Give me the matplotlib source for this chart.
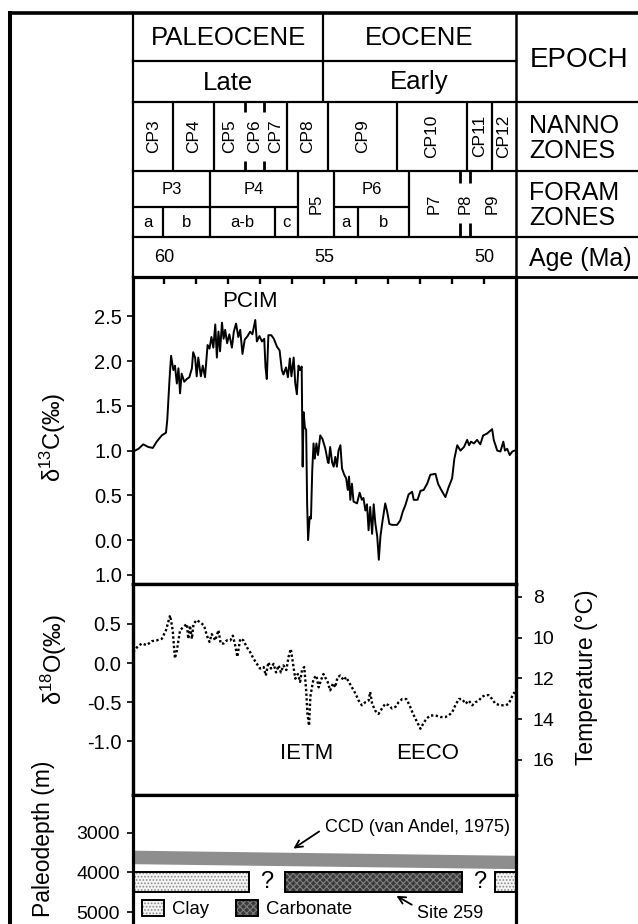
import matplotlib
matplotlib.use('Agg')
import matplotlib.pyplot as plt
from matplotlib.patches import Patch

plt.rcParams['font.family'] = ['Liberation Sans', 'DejaVu Sans']
plt.rcParams['mathtext.default'] = 'regular'
plt.rcParams['hatch.linewidth'] = 0.8

# ---------------- data ----------------
d13c_age = [60.97, 60.81, 60.66, 60.50, 60.36, 60.24, 60.08, 59.95, 59.91, 59.84, 59.79,
            59.72, 59.67, 59.61, 59.56, 59.51, 59.46, 59.38, 59.30, 59.22, 59.14, 59.10,
            59.04, 58.99, 58.94, 58.86, 58.80, 58.73, 58.65, 58.59, 58.53, 58.47, 58.41,
            58.36, 58.31, 58.26, 58.20, 58.15, 58.10, 58.04, 57.97, 57.89, 57.83, 57.76,
            57.69, 57.63, 57.56, 57.49, 57.40, 57.32, 57.25, 57.16, 57.11, 57.03, 56.95,
            56.88, 56.84, 56.80, 56.75, 56.66, 56.58, 56.48, 56.40, 56.33, 56.28, 56.20,
            56.14, 56.08, 56.03, 55.96, 55.91, 55.86, 55.81, 55.76, 55.71, 55.68, 55.65,
            55.61, 55.57, 55.54, 55.51, 55.46, 55.42, 55.38, 55.34, 55.30, 55.25, 55.20,
            55.13, 55.06, 54.97, 54.89, 54.87, 54.82, 54.76, 54.71, 54.66, 54.61, 54.56,
            54.50, 54.45, 54.38, 54.32, 54.27, 54.23, 54.19, 54.14, 54.09, 53.98, 53.90,
            53.83, 53.78, 53.72, 53.67, 53.62, 53.57, 53.51, 53.46, 53.41, 53.35, 53.30,
            53.25, 53.19, 53.10, 53.04, 52.97, 52.89, 52.73, 52.63, 52.55, 52.47, 52.37,
            52.26, 52.21, 52.09, 52.00, 51.90, 51.79, 51.69, 51.53, 51.45, 51.35, 51.22,
            51.12, 51.01, 50.94, 50.85, 50.75, 50.64, 50.54, 50.48, 50.42, 50.33, 50.23,
            50.13, 50.04, 49.92, 49.76, 49.71, 49.60, 49.50, 49.41, 49.36, 49.29, 49.21,
            49.13, 49.06]
d13c_val = [0.99, 1.02, 1.07, 1.04, 1.03, 1.10, 1.17, 1.20, 1.34, 1.79, 2.06,
            1.90, 1.95, 1.75, 1.92, 1.64, 1.86, 1.77, 1.80, 1.82, 1.92, 2.10,
            2.04, 1.83, 2.04, 1.83, 1.95, 1.82, 2.18, 2.14, 2.27, 2.15, 2.41,
            2.04, 2.33, 2.11, 2.43, 2.25, 2.35, 2.20, 2.30, 2.15, 2.33, 2.42,
            2.27, 2.35, 2.08, 2.24, 2.28, 2.33, 2.30, 2.46, 2.22, 2.28, 2.22,
            2.25, 1.93, 1.80, 2.29, 2.29, 2.25, 2.16, 2.12, 1.90, 1.85, 1.93,
            1.82, 2.03, 1.83, 2.04, 1.75, 1.63, 1.95, 1.90, 1.94, 0.82, 1.43,
            1.26, 1.23, 0.41, 0.00, 0.26, 0.24, 0.78, 1.08, 0.91, 1.08, 0.95,
            1.17, 1.13, 1.02, 0.87, 0.86, 1.04, 0.87, 0.82, 0.93, 0.82, 1.00,
            1.06, 0.80, 0.73, 0.69, 0.56, 0.71, 0.45, 0.63, 0.43, 0.41, 0.53,
            0.45, 0.47, 0.33, 0.40, 0.11, 0.37, 0.07, 0.40, 0.19, 0.04, -0.22,
            0.04, 0.20, 0.41, 0.32, 0.18, 0.17, 0.17, 0.22, 0.32, 0.39, 0.51,
            0.54, 0.45, 0.45, 0.55, 0.56, 0.63, 0.73, 0.74, 0.63, 0.56, 0.48,
            0.59, 0.69, 0.91, 1.06, 1.00, 1.04, 1.12, 1.06, 1.10, 1.08, 1.12,
            1.07, 1.17, 1.19, 1.24, 1.12, 1.00, 0.99, 1.10, 1.00, 1.02, 0.95,
            0.99, 1.00]

d18o_age = [60.97, 60.86, 60.71, 60.55, 60.39, 60.24, 60.08, 59.95, 59.82, 59.74, 59.67,
            59.61, 59.51, 59.41, 59.30, 59.25, 59.20, 59.14, 59.09, 58.99, 58.88, 58.76,
            58.67, 58.59, 58.52, 58.41, 58.31, 58.24, 58.15, 58.05, 57.94, 57.86, 57.79,
            57.72, 57.63, 57.53, 57.42, 57.32, 57.22, 57.11, 57.01, 56.90, 56.83, 56.75,
            56.67, 56.59, 56.51, 56.43, 56.36, 56.28, 56.19, 56.12, 56.05, 55.98, 55.91,
            55.83, 55.76, 55.70, 55.63, 55.57, 55.53, 55.48, 55.44, 55.39, 55.34, 55.25,
            55.18, 55.11, 55.03, 54.90, 54.82, 54.73, 54.66, 54.59, 54.50, 54.40, 54.32,
            54.24, 54.14, 54.03, 53.93, 53.83, 53.72, 53.62, 53.57, 53.51, 53.41, 53.31,
            53.20, 53.10, 52.99, 52.89, 52.78, 52.68, 52.57, 52.44, 52.34, 52.23, 52.11,
            52.00, 51.92, 51.81, 51.69, 51.53, 51.38, 51.22, 51.12, 51.01, 50.91, 50.80,
            50.70, 50.59, 50.49, 50.38, 50.28, 50.18, 50.07, 49.97, 49.87, 49.76, 49.66,
            49.50, 49.34, 49.24, 49.14, 49.06]
d18o_val = [0.14, 0.20, 0.25, 0.23, 0.28, 0.29, 0.31, 0.42, 0.61, 0.42, 0.06,
            0.16, 0.42, 0.46, 0.50, 0.31, 0.48, 0.31, 0.50, 0.55, 0.52, 0.48,
            0.35, 0.27, 0.37, 0.29, 0.42, 0.25, 0.25, 0.29, 0.29, 0.35, 0.23,
            0.08, 0.31, 0.29, 0.20, 0.14, 0.06, -0.01, -0.07, -0.05, -0.16, 0.01,
            -0.07, -0.01, -0.12, -0.03, -0.12, -0.03, -0.09, 0.08, 0.18, -0.01, -0.20,
            -0.14, -0.24, -0.09, -0.05, -0.35, -0.65, -0.80, -0.43, -0.31, -0.20, -0.16,
            -0.31, -0.22, -0.14, -0.24, -0.35, -0.26, -0.31, -0.18, -0.16, -0.22, -0.18,
            -0.24, -0.31, -0.39, -0.48, -0.54, -0.50, -0.48, -0.37, -0.52, -0.61, -0.65,
            -0.58, -0.52, -0.54, -0.58, -0.56, -0.50, -0.46, -0.46, -0.54, -0.65, -0.75,
            -0.84, -0.78, -0.71, -0.67, -0.67, -0.69, -0.69, -0.67, -0.63, -0.54, -0.46,
            -0.46, -0.52, -0.48, -0.54, -0.50, -0.48, -0.43, -0.41, -0.41, -0.46, -0.52,
            -0.54, -0.54, -0.52, -0.43, -0.37]

d13c_ticks = [2.5, 2.0, 1.5, 1.0, 0.5, 0.0, -0.39]
d13c_ticklabels = ['2.5', '2.0', '1.5', '1.0', '0.5', '0.0', '1.0']
d18o_ticks = [0.5, 0.0, -0.5, -1.0]
d18o_ticklabels = ['0.5', '0.0', '-0.5', '-1.0']
temp_ticks = [8, 10, 12, 14, 16]
depth_ticks = [3000, 4000, 5000]
age_ticks = list(range(60, 49, -1))
age_labels = [60, 55, 50]

epoch_names = ['PALEOCENE', 'EOCENE']
subepoch_names = ['Late', 'Early']
epoch_bound = 55.03

nanno_names = ['CP3', 'CP4', 'CP5', 'CP6', 'CP7', 'CP8', 'CP9', 'CP10', 'CP11', 'CP12']
nanno_bounds = [59.72, 58.44, 57.48, 56.90, 56.17, 54.90, 52.73, 50.56, 49.76]
nanno_dashed = [False, False, True, True, False, False, False, False, False]

foram_names = ['P3', 'P4', 'P5', 'P6', 'P7', 'P8', 'P9']
foram_bounds = [58.57, 55.81, 54.69, 52.37, 50.77, 50.46]
foram_dashed = [False, False, False, False, True, True]
foram_split = [True, True, False, True, False, False, False]
sub_names = ['a', 'b', 'a-b', 'c', 'a', 'b']
sub_bounds_inner = [60.03, 56.54, 53.95]
sub_edges = [(61.5, 60.03), (60.03, 58.57), (58.57, 56.54), (56.54, 55.81),
             (54.69, 53.95), (53.95, 52.37)]

ccd_age = [61.0, 49.0]
ccd_top = [3440, 3570]
ccd_bottom = [3780, 3905]
clay_intervals = [(61.2, 57.37), (49.66, 48.8)]
carb_intervals = [(56.22, 50.70)]
gap_ages = [56.80, 50.15]
lith_top, lith_bottom = 4000, 4500

# ---------------- layout ----------------
W, H = 638, 924
AGE_OLD, AGE_YOUNG = 60.98, 49.03
XL, XR = 133, 515.5
Y_TOP, Y_P1, Y_P2, Y_P3, Y_BOT = 12.7, 276.5, 584, 795, 924
R_EP, R_SUB, R_NAN, R_FOR_MID, R_FOR = 61, 102, 170.5, 206.5, 236.8

fig = plt.figure(figsize=(W / 100, H / 100), dpi=100)


def rect(x0, y0, x1, y1):
    return [x0 / W, 1 - y1 / H, (x1 - x0) / W, (y1 - y0) / H]


SP_LW = 2.3
TICK_FS = 14.5

# ---- d13C panel ----
ax1 = fig.add_axes(rect(XL, Y_P1, XR, Y_P2))
ax1.plot(d13c_age, d13c_val, color='black', lw=1.4)
ax1.set_xlim(AGE_OLD, AGE_YOUNG)
ax1.set_ylim(-0.491, 2.946)
ax1.set_xticks(age_ticks)
ax1.tick_params(axis='x', top=True, bottom=False, labelbottom=False, labeltop=False,
                direction='in', length=5, width=1.7)
ax1.set_yticks(d13c_ticks)
ax1.set_yticklabels(d13c_ticklabels)
ax1.tick_params(axis='y', direction='out', length=4.5, width=1.2, pad=3.5, labelsize=TICK_FS)
ax1.text(57.32, 2.67, 'PCIM', fontsize=16, ha='center', va='center')
ax1.text(-0.2086, 0.4764, r'δ$^{13}$C(‰)', transform=ax1.transAxes, rotation=90,
         ha='center', va='center', fontsize=17)

# ---- d18O panel ----
ax2 = fig.add_axes(rect(XL, Y_P2, XR, Y_P3))
ax2.plot(d18o_age, d18o_val, color='black', lw=1.7, linestyle=(0, (1, 1)))
ax2.set_xlim(AGE_OLD, AGE_YOUNG)
ax2.set_ylim(-1.687, 1.011)
ax2.set_xticks([])
ax2.set_yticks(d18o_ticks)
ax2.set_yticklabels(d18o_ticklabels)
ax2.tick_params(axis='y', direction='out', length=4.5, width=1.2, pad=4, labelsize=TICK_FS)
ax2.text(55.55, -1.15, 'IETM', fontsize=16, ha='center', va='center')
ax2.text(51.77, -1.15, 'EECO', fontsize=16, ha='center', va='center')
ax2.text(-0.2063, 0.640, r'δ$^{18}$O(‰)', transform=ax2.transAxes, rotation=90,
         ha='center', va='center', fontsize=17)
ax2t = ax2.twinx()
ax2t.set_ylim(17.715, 7.378)
ax2t.set_yticks(temp_ticks)
ax2t.tick_params(axis='y', direction='out', length=4.5, width=1.2, pad=8, labelsize=14)
ax2t.text(1.186, 0.557, 'Temperature (°C)', transform=ax2t.transAxes, rotation=90,
          ha='center', va='center', fontsize=16.5)

# ---- paleodepth panel ----
ax3 = fig.add_axes(rect(XL, Y_P3, XR, Y_BOT))
ax3.set_xlim(AGE_OLD, AGE_YOUNG)
ax3.set_ylim(5300, 2050)
ax3.fill_between(ccd_age, ccd_top, ccd_bottom, color='#8e8e8e', lw=0)
clay_fill = dict(facecolor='#f4f4f4', edgecolor='#8a8a8a', hatch='.....', lw=0)
carb_fill = dict(facecolor='#3a3a3a', edgecolor='#7e7e7e', hatch='xxxxx', lw=0)
outline = dict(facecolor='none', edgecolor='black', lw=1.4)
for a0, a1 in clay_intervals:
    ax3.barh((lith_top + lith_bottom) / 2, a1 - a0, left=a0, height=lith_bottom - lith_top,
             **clay_fill)
    ax3.barh((lith_top + lith_bottom) / 2, a1 - a0, left=a0, height=lith_bottom - lith_top,
             **outline)
for a0, a1 in carb_intervals:
    ax3.barh((lith_top + lith_bottom) / 2, a1 - a0, left=a0, height=lith_bottom - lith_top,
             **carb_fill)
    ax3.barh((lith_top + lith_bottom) / 2, a1 - a0, left=a0, height=lith_bottom - lith_top,
             **outline)
for g in gap_ages:
    ax3.text(g, (lith_top + lith_bottom) / 2, '?', fontsize=17, ha='center', va='center')
ax3.annotate('CCD (van Andel, 1975)', xy=(55.97, 3400), xytext=(54.97, 2865),
             fontsize=13, ha='left', va='center',
             arrowprops=dict(arrowstyle='->', lw=1.3, color='black', shrinkA=3, shrinkB=0,
                             relpos=(0, 0.5)))
ax3.annotate('Site 259', xy=(52.75, 4590), xytext=(52.11, 5040),
             fontsize=13, ha='left', va='center',
             arrowprops=dict(arrowstyle='->', lw=1.3, color='black', shrinkA=2, shrinkB=0,
                             relpos=(0, 0.85)))
handles = [(Patch(**clay_fill), Patch(**outline)), (Patch(**carb_fill), Patch(**outline))]
ax3.legend(handles, ['Clay', 'Carbonate'], loc='center left',
           bbox_to_anchor=(0.0228, 0.116), frameon=False, ncol=2, fontsize=13.3,
           handlelength=1.2, handleheight=1.0, handletextpad=0.45, columnspacing=1.45,
           borderpad=0, borderaxespad=0)
ax3.set_xticks([])
ax3.set_yticks(depth_ticks)
ax3.tick_params(axis='y', direction='out', length=4.5, width=1.2, pad=5, labelsize=14)
ax3.spines['bottom'].set_visible(False)
ax3.text(-0.2348, 0.659, 'Paleodepth (m)', transform=ax3.transAxes, rotation=90,
         ha='center', va='center', fontsize=16.5)

for ax in (ax1, ax2, ax2t, ax3):
    for s in ax.spines.values():
        s.set_linewidth(SP_LW)

# ---- header (zones) ----
hx = fig.add_axes(rect(XL, Y_TOP, XR, Y_P1))
hx.set_xlim(AGE_OLD, AGE_YOUNG)
hx.set_ylim(Y_P1, Y_TOP)
hx.axis('off')
LW_H = 1.6
hx.vlines(epoch_bound, Y_TOP, R_SUB, color='black', lw=LW_H)
ep_edges = [AGE_OLD, epoch_bound, AGE_YOUNG]
for i, (n, s) in enumerate(zip(epoch_names, subepoch_names)):
    c = (ep_edges[i] + ep_edges[i + 1]) / 2
    hx.text(c, (Y_TOP + R_EP) / 2 + 1, n, fontsize=18.5, ha='center', va='center')
    hx.text(c, (R_EP + R_SUB) / 2 + 1, s, fontsize=18.5, ha='center', va='center')

for b, d in zip(nanno_bounds, nanno_dashed):
    if d:
        hx.vlines(b, R_SUB, R_SUB + 10, color='black', lw=2.0)
        hx.vlines(b, R_NAN - 10, R_NAN, color='black', lw=2.0)
    else:
        hx.vlines(b, R_SUB, R_NAN, color='black', lw=LW_H)
nan_edges = [AGE_OLD] + nanno_bounds + [AGE_YOUNG]
for i, n in enumerate(nanno_names):
    c = (nan_edges[i] + nan_edges[i + 1]) / 2
    hx.text(c, (R_SUB + R_NAN) / 2, n, fontsize=12.5, rotation=90, ha='center', va='center')

for b, d in zip(foram_bounds, foram_dashed):
    if d:
        hx.vlines(b, R_NAN, R_NAN + 12, color='black', lw=2.0)
        hx.vlines(b, R_FOR - 14, R_FOR, color='black', lw=2.0)
    else:
        hx.vlines(b, R_NAN, R_FOR, color='black', lw=LW_H)
for b in sub_bounds_inner:
    hx.vlines(b, R_FOR_MID, R_FOR, color='black', lw=LW_H)
for_edges = [AGE_OLD] + foram_bounds + [AGE_YOUNG]
for i, (n, sp) in enumerate(zip(foram_names, foram_split)):
    a0, a1 = for_edges[i], for_edges[i + 1]
    c = (a0 + a1) / 2
    if sp:
        hx.hlines(R_FOR_MID, a0, a1, color='black', lw=LW_H)
        hx.text(c, (R_NAN + R_FOR_MID) / 2 + 1, n, fontsize=12, ha='center', va='center')
    else:
        hx.text(c, (R_NAN + R_FOR) / 2, n, fontsize=12, rotation=90, ha='center', va='center')
for n, (a0, a1) in zip(sub_names, sub_edges):
    c = (max(min(a0, AGE_OLD), AGE_YOUNG) + a1) / 2
    hx.text(c, (R_FOR_MID + R_FOR) / 2 + 1, n, fontsize=12, ha='center', va='center')
for a in age_labels:
    hx.text(a, (R_FOR + Y_P1) / 2 + 1, str(a), fontsize=13, ha='center', va='center')

# ---- frame lines and right column ----
fa = fig.add_axes([0, 0, 1, 1])
fa.set_xlim(0, W)
fa.set_ylim(H, 0)
fa.axis('off')
fa.patch.set_alpha(0)
fa.set_zorder(10)
X_OUT = 10.3
fa.plot([X_OUT, X_OUT], [Y_TOP, H], color='black', lw=2.9, solid_capstyle='projecting')
fa.plot([X_OUT, W], [Y_TOP, Y_TOP], color='black', lw=2.6, solid_capstyle='projecting')
fa.plot([XL - 0.5, XL - 0.5], [Y_TOP, Y_P1], color='black', lw=LW_H)
fa.plot([XR, XR], [Y_TOP, H], color='black', lw=1.8)
fa.plot([XL - 0.5, XR], [R_EP, R_EP], color='black', lw=LW_H)
for y in (R_SUB, R_NAN, R_FOR):
    fa.plot([XL - 0.5, W], [y, y], color='black', lw=LW_H)
fa.plot([XR, W], [Y_P1, Y_P1], color='black', lw=2.0)
XT = 529.3
fa.text(XT, (Y_TOP + R_SUB) / 2 + 3, 'EPOCH', fontsize=20, ha='left', va='center')
fa.text(XT, (R_SUB + R_NAN) / 2 + 2, 'NANNO\nZONES', fontsize=18, ha='left', va='center',
        linespacing=1.05)
fa.text(XT, (R_NAN + R_FOR) / 2 + 1.5, 'FORAM\nZONES', fontsize=18, ha='left', va='center',
        linespacing=1.05)
fa.text(XT, (R_FOR + Y_P1) / 2 + 2, 'Age (Ma)', fontsize=18, ha='left', va='center')

fig.savefig('out.png', dpi=100)
